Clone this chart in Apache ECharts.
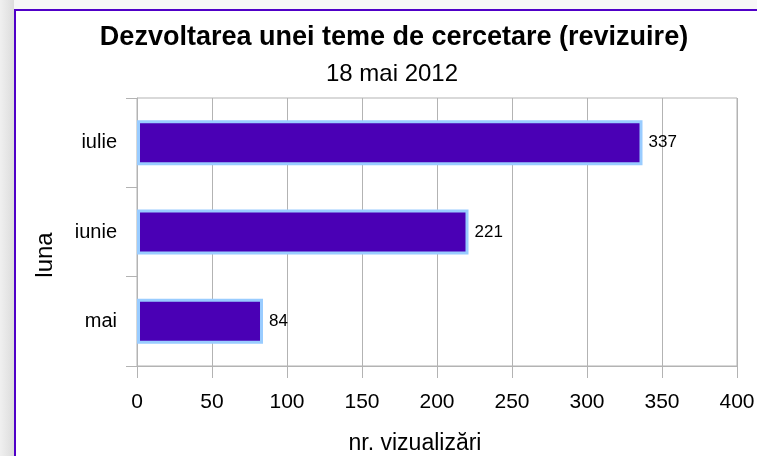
<!DOCTYPE html>
<html>
<head>
<meta charset="utf-8">
<script src="https://cdn.jsdelivr.net/npm/echarts@6/dist/echarts.min.js"></script>
<style>
    html, body { margin: 0; padding: 0; background: #f7f7f7; }
    #chart { width: 757px; height: 456px; }
</style>
</head>
<body>
<div id="chart"></div>
<script>
// date
var luni = ['mai', 'iunie', 'iulie'];
var vizualizari = [84, 221, 337];
var ticksX = [0, 50, 100, 150, 200, 250, 300, 350, 400];

! function() {
    'use strict'
    var chart = echarts.init(document.getElementById('chart'));
    var font = 'Liberation Sans, Arial, sans-serif';

    var option = {
        backgroundColor: '#f7f7f7',
        animation: false,
        title: [{
            text: 'Dezvoltarea unei teme de cercetare (revizuire)',
            left: 394,
            top: 24,
            padding: 0,
            textAlign: 'center',
            textStyle: {
                fontFamily: font,
                fontSize: 27,
                fontWeight: 'bold',
                color: '#000'
            }
        }, {
            text: '18 mai 2012',
            left: 392,
            top: 62,
            padding: 0,
            textAlign: 'center',
            textStyle: {
                fontFamily: font,
                fontSize: 24,
                fontWeight: 'normal',
                color: '#000'
            }
        }],
        graphic: [{
            // banda gri din stanga
            type: 'rect',
            z: -10,
            shape: { x: 0, y: 0, width: 14, height: 456 },
            style: {
                fill: new echarts.graphic.LinearGradient(0, 0, 1, 0, [
                    { offset: 0, color: '#f0f0f0' },
                    { offset: 1, color: '#dcdcdc' }
                ])
            }
        }, {
            // chenarul mov
            type: 'rect',
            z: -9,
            shape: { x: 15, y: 10, width: 800, height: 500 },
            style: { fill: '#fff', stroke: '#5000c8', lineWidth: 2 }
        }, {
            type: 'text',
            x: 45,
            y: 255,
            rotation: Math.PI / 2,
            style: {
                text: 'luna',
                font: '24px ' + font,
                fill: '#000',
                textAlign: 'center',
                textVerticalAlign: 'middle'
            }
        }],
        grid: {
            left: 137,
            right: 20,
            top: 98,
            bottom: 90,
            outerBoundsMode: 'none',
            containLabel: false,
            show: true,
            borderColor: '#b3b3b3',
            borderWidth: 1,
            backgroundColor: 'transparent'
        },
        xAxis: {
            type: 'value',
            min: ticksX[0],
            max: ticksX[ticksX.length - 1],
            interval: ticksX[1] - ticksX[0],
            name: 'nr. vizualizări',
            nameLocation: 'middle',
            nameGap: 66,
            nameTextStyle: { fontFamily: font, fontSize: 23, color: '#000', padding: [0, 44, 0, 0] },
            axisLine: { show: true, lineStyle: { color: '#b3b3b3' } },
            axisTick: { show: true, length: 12, lineStyle: { color: '#b3b3b3' } },
            axisLabel: { margin: 26, fontFamily: font, fontSize: 21, color: '#000' },
            splitLine: { show: true, lineStyle: { color: '#b3b3b3' } }
        },
        yAxis: {
            type: 'category',
            data: luni,
            axisLine: { show: true, lineStyle: { color: '#b3b3b3' } },
            axisTick: { show: true, length: 11, lineStyle: { color: '#b3b3b3' } },
            axisLabel: { margin: 20, fontFamily: font, fontSize: 20, color: '#000' },
            splitLine: { show: false }
        },
        series: [{
            type: 'bar',
            data: vizualizari,
            barWidth: 45,
            itemStyle: {
                color: '#4a00b5',
                borderColor: '#99ccff',
                borderWidth: 3
            },
            label: {
                show: true,
                position: 'right',
                distance: 6,
                fontFamily: font,
                fontSize: 17,
                color: '#000'
            }
        }]
    };

    chart.setOption(option);
}()
</script>
</body>
</html>
